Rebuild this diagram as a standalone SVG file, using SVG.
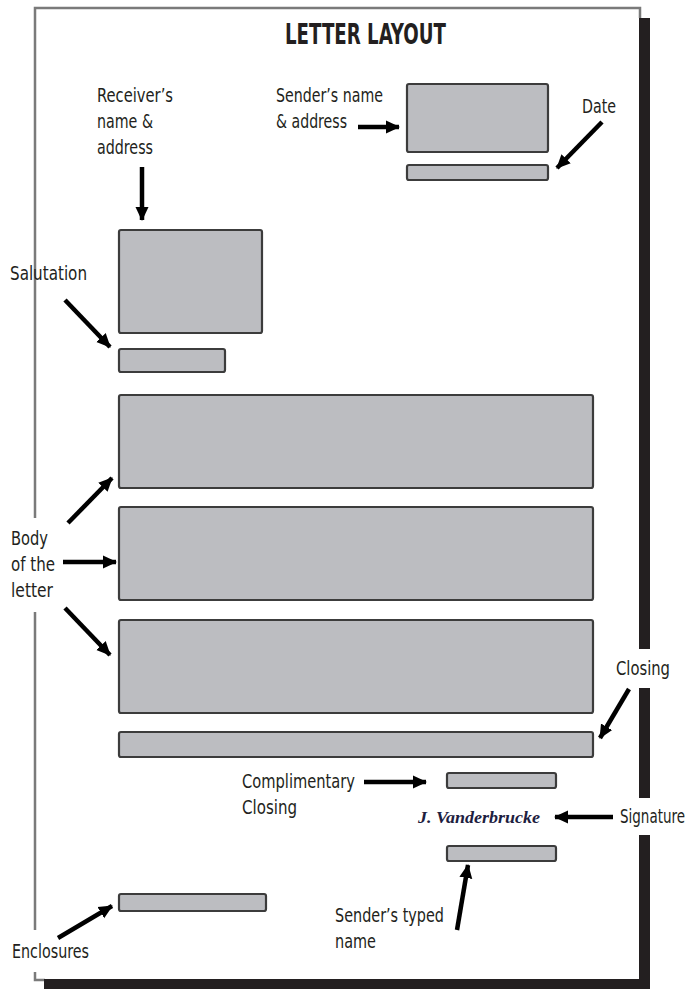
<svg xmlns="http://www.w3.org/2000/svg" width="695" height="989" viewBox="0 0 695 989">
<style>
  .box { fill: #bcbdc1; stroke: #3c3c3c; stroke-width: 2.2; }
  .lbl { font-family: "Liberation Sans Narrow", "DejaVu Sans Condensed", "Liberation Sans", sans-serif; font-size: 20px; fill: #231f20; }
  .title { font-family: "Liberation Sans Narrow", "DejaVu Sans Condensed", "Liberation Sans", sans-serif; font-size: 28px; font-weight: bold; fill: #231f20; }
  .sig { font-family: "Liberation Serif", "DejaVu Serif", serif; font-size: 17px; font-style: italic; font-weight: bold; fill: #1d2040; }
  .arrow { stroke: #000; stroke-width: 4.5; fill: none; marker-end: url(#ah); }
  .border { stroke: #7a7a7a; stroke-width: 2.5; fill: none; }
  .shadow { fill: #231f20; }
</style>
<defs>
  <marker id="ah" markerUnits="userSpaceOnUse" markerWidth="16" markerHeight="16" refX="13" refY="8" orient="auto">
    <path d="M0,1.5 L14,8 L0,14.5 Z" fill="#000"/>
  </marker>
</defs>
<rect width="695" height="989" fill="#fff"/>

<g id="page">
  <path class="border" d="M35,518 L35,8 L640,8 L640,18"/>
  <path class="border" d="M35,612 L35,930"/>
  <path class="border" d="M35,972 L35,980 L45,980"/>
  <rect class="shadow" x="639" y="18" width="11" height="631"/>
  <rect class="shadow" x="639" y="688" width="11" height="110"/>
  <rect class="shadow" x="639" y="835" width="11" height="154"/>
  <rect class="shadow" x="44" y="979" width="606" height="10"/>
</g>

<g id="title"><text class="title" x="285" y="44" textLength="161" lengthAdjust="spacingAndGlyphs">LETTER LAYOUT</text></g>

<g id="sender-address">
  <rect class="box" x="407" y="84" width="141" height="68" rx="2"/>
</g>
<g id="date-bar">
  <rect class="box" x="407" y="165" width="141" height="15" rx="2"/>
</g>
<g id="receiver-address">
  <rect class="box" x="119" y="230" width="143" height="103" rx="2"/>
</g>
<g id="salutation-bar">
  <rect class="box" x="119" y="349" width="106" height="23" rx="2"/>
</g>
<g id="body-1"><rect class="box" x="119" y="395" width="474" height="93" rx="2"/></g>
<g id="body-2"><rect class="box" x="119" y="507" width="474" height="93" rx="2"/></g>
<g id="body-3"><rect class="box" x="119" y="620" width="474" height="93" rx="2"/></g>
<g id="closing-bar"><rect class="box" x="119" y="732" width="474" height="25" rx="2"/></g>
<g id="complimentary-bar"><rect class="box" x="447" y="773" width="109" height="15" rx="2"/></g>
<g id="signature"><text class="sig" x="418" y="823" textLength="122" lengthAdjust="spacingAndGlyphs">J. Vanderbrucke</text></g>
<g id="typed-name-bar"><rect class="box" x="447" y="846" width="109" height="15" rx="2"/></g>
<g id="enclosures-bar"><rect class="box" x="119" y="894" width="147" height="17" rx="2"/></g>

<g id="labels">
  <text class="lbl" x="97" y="102" textLength="76" lengthAdjust="spacingAndGlyphs">Receiver’s</text>
  <text class="lbl" x="97" y="128" textLength="56" lengthAdjust="spacingAndGlyphs">name &amp;</text>
  <text class="lbl" x="97" y="154" textLength="56" lengthAdjust="spacingAndGlyphs">address</text>
  <text class="lbl" x="276" y="102" textLength="107" lengthAdjust="spacingAndGlyphs">Sender’s name</text>
  <text class="lbl" x="276" y="128" textLength="71" lengthAdjust="spacingAndGlyphs">&amp; address</text>
  <text class="lbl" x="582" y="113" textLength="34" lengthAdjust="spacingAndGlyphs">Date</text>
  <text class="lbl" x="10" y="280" textLength="77" lengthAdjust="spacingAndGlyphs">Salutation</text>
  <text class="lbl" x="11" y="545" textLength="37" lengthAdjust="spacingAndGlyphs">Body</text>
  <text class="lbl" x="11" y="571" textLength="44" lengthAdjust="spacingAndGlyphs">of the</text>
  <text class="lbl" x="11" y="597" textLength="42" lengthAdjust="spacingAndGlyphs">letter</text>
  <text class="lbl" x="616" y="675" textLength="54" lengthAdjust="spacingAndGlyphs">Closing</text>
  <text class="lbl" x="242" y="788" textLength="113" lengthAdjust="spacingAndGlyphs">Complimentary</text>
  <text class="lbl" x="242" y="814" textLength="55" lengthAdjust="spacingAndGlyphs">Closing</text>
  <text class="lbl" x="620" y="823" textLength="65" lengthAdjust="spacingAndGlyphs">Signature</text>
  <text class="lbl" x="335" y="922" textLength="109" lengthAdjust="spacingAndGlyphs">Sender’s typed</text>
  <text class="lbl" x="335" y="948" textLength="41" lengthAdjust="spacingAndGlyphs">name</text>
  <text class="lbl" x="12" y="958" textLength="77" lengthAdjust="spacingAndGlyphs">Enclosures</text>
</g>

<g id="connectors">
  <line class="arrow" x1="142" y1="167" x2="142" y2="220"/>
  <line class="arrow" x1="358" y1="127" x2="399" y2="127"/>
  <line class="arrow" x1="602" y1="122" x2="557" y2="168"/>
  <line class="arrow" x1="65" y1="300" x2="110" y2="347"/>
  <line class="arrow" x1="68" y1="523" x2="112" y2="478"/>
  <line class="arrow" x1="63" y1="562" x2="116" y2="562"/>
  <line class="arrow" x1="65" y1="608" x2="110" y2="655"/>
  <line class="arrow" x1="629" y1="689" x2="600" y2="738"/>
  <line class="arrow" x1="364" y1="782" x2="426" y2="782"/>
  <line class="arrow" x1="613" y1="817" x2="555" y2="817"/>
  <line class="arrow" x1="457" y1="930" x2="468" y2="865"/>
  <line class="arrow" x1="58" y1="938" x2="112" y2="906"/>
</g>
</svg>
